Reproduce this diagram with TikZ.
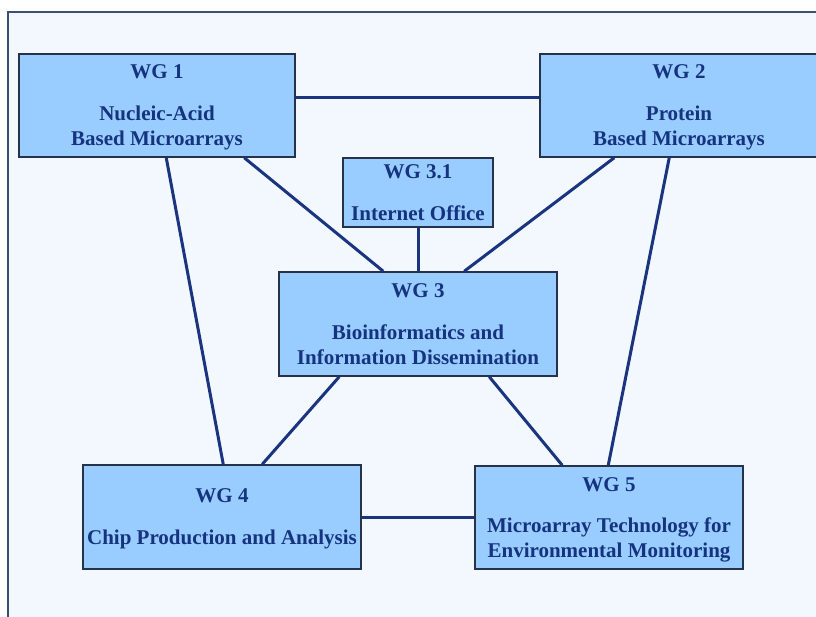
\documentclass[tikz,border=0pt]{standalone}
\usepackage{fontspec}
\setmainfont{Liberation Serif}
\definecolor{bgfill}{HTML}{F2F8FE}
\definecolor{framecol}{HTML}{3A5070}
\definecolor{boxfill}{HTML}{99CCFF}
\definecolor{boxborder}{HTML}{25324A}
\definecolor{linecol}{HTML}{1A3480}
\definecolor{textcol}{HTML}{15337F}
\tikzset{
  wgbox/.style={draw=boxborder, fill=boxfill, line width=1.5pt, inner sep=0pt,
    align=center, text=textcol, text depth=0pt,
    font=\fontsize{21}{25}\selectfont\bfseries},
  link/.style={draw=linecol, line width=3pt}
}
\begin{document}
\begin{tikzpicture}[x=1pt,y=-1pt]
\useasboundingbox (0,0) rectangle (816,616);
\clip (0,0) rectangle (816,616);
\fill[white] (0,0) rectangle (816,616);
\draw[framecol, fill=bgfill, line width=1.5pt] (8,12) rectangle (840,640);

\node[wgbox, minimum width=276pt, minimum height=103pt] (wg1) at (157,105.5)
  {WG 1\\[17pt]Nucleic-Acid\\Based Microarrays};
\node[wgbox, minimum width=278pt, minimum height=103pt] (wg2) at (679,105.5)
  {WG 2\\[17pt]Protein\\Based Microarrays};
\node[wgbox, minimum width=150pt, minimum height=69pt] (wg31) at (418,192.5)
  {WG 3.1\\[17pt]Internet Office};
\node[wgbox, minimum width=278pt, minimum height=104pt] (wg3) at (418,324)
  {WG 3\\[17pt]Bioinformatics and\\Information Dissemination};
\node[wgbox, minimum width=278pt, minimum height=104pt] (wg4) at (222,517)
  {WG 4\\[17pt]Chip Production and Analysis};
\node[wgbox, minimum width=268pt, minimum height=103pt] (wg5) at (609,517.5)
  {WG 5\\[16pt]Microarray Technology for\\Environmental Monitoring};

\draw[link] ([yshift=8.5pt]wg1.east) -- ([yshift=8.5pt]wg2.west);
\draw[link] ([xshift=148pt]wg1.south west) -- ([xshift=141pt]wg4.north west);
\draw[link] ([xshift=226pt]wg1.south west) -- ([xshift=105pt]wg3.north west);
\draw[link] (wg31.south) -- (wg3.north);
\draw[link] ([xshift=75pt]wg2.south west) -- ([xshift=186pt]wg3.north west);
\draw[link] ([xshift=130pt]wg2.south west) -- ([xshift=134pt]wg5.north west);
\draw[link] ([xshift=61pt]wg3.south west) -- ([xshift=180pt]wg4.north west);
\draw[link] ([xshift=211pt]wg3.south west) -- ([xshift=88pt]wg5.north west);
\draw[link] (wg4.east) -- (wg4.east -| wg5.west);
\end{tikzpicture}
\end{document}
